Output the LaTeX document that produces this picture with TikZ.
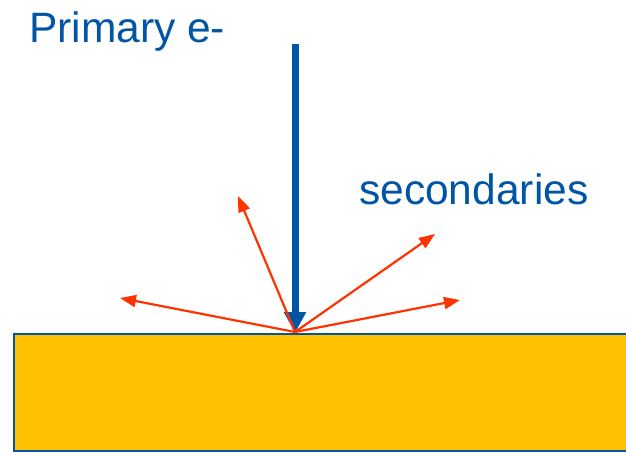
\documentclass[tikz,border=0pt]{standalone}
\usepackage{fontspec}
\setmainfont{Liberation Sans}
\usetikzlibrary{arrows.meta}

\definecolor{beamblue}{RGB}{0,85,165}
\definecolor{secred}{RGB}{255,51,0}
\definecolor{slabgold}{RGB}{255,192,0}

\begin{document}
\begin{tikzpicture}[
  x=1pt, y=-1pt,
  label/.style={inner sep=0pt, text=beamblue, font=\fontsize{42.5}{50}\selectfont},
  primary/.style={draw=beamblue, line width=7pt, -{Triangle[length=21pt, width=21pt]}},
  secondary/.style={draw=secred, line width=2.2pt, -{Triangle[length=16pt, width=12pt]}},
  slab/.style={draw=beamblue, line width=1.5pt, fill=slabgold}
  ]
\useasboundingbox (0,0) rectangle (626,453);

% target
\draw[slab] (14,334) rectangle (630,451);

% primary beam
\coordinate (src) at (295,44);
\coordinate (hit) at (295,333);
\draw[primary] (src) -- (hit);

% secondaries
\coordinate (o) at (295,332);
\coordinate (s1) at (238,196);
\coordinate (s2) at (435,234);
\coordinate (s3) at (120,298);
\coordinate (s4) at (460,300);
\foreach \e in {s1,s2,s3,s4}
  \draw[secondary] (o) -- (\e);

% labels
\node[label, anchor=base west] (prim) at (29,42) {Primary e-};
\node[label, anchor=base west] (sec) at (359,204) {secondaries};

\end{tikzpicture}
\end{document}
